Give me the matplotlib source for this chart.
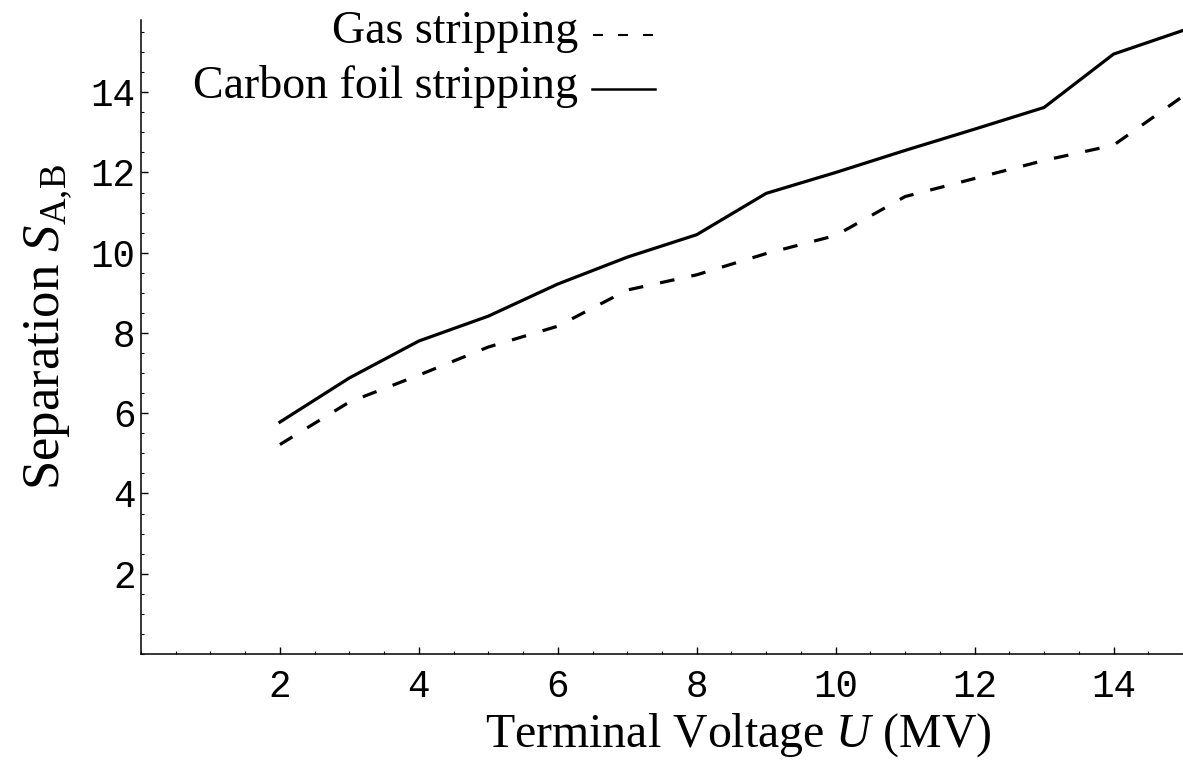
import matplotlib
matplotlib.use('Agg')
import matplotlib.pyplot as plt
from matplotlib.lines import Line2D
from matplotlib.ticker import MultipleLocator

plt.rcParams['mathtext.fontset'] = 'custom'
plt.rcParams['mathtext.rm'] = 'Liberation Serif'
plt.rcParams['mathtext.it'] = 'Liberation Serif:italic'

# terminal voltage (MV)
voltage = [2, 3, 4, 5, 6, 7, 8, 9, 10, 11, 12, 13, 14, 15]
# separation values
carbon_foil = [5.78, 6.88, 7.80, 8.42, 9.22, 9.89, 10.45, 11.48, 12.0, 12.55, 13.08, 13.62, 14.95, 15.54]
gas = [5.22, 6.28, 6.95, 7.65, 8.17, 9.07, 9.45, 9.98, 10.43, 11.4, 11.85, 12.3, 12.68, 13.9]

xticks = [2, 4, 6, 8, 10, 12, 14]
yticks = [2, 4, 6, 8, 10, 12, 14]

serif = 'Liberation Serif'
mono = 'Liberation Mono'

fig = plt.figure(figsize=(11.83, 7.6), dpi=100)
ax = fig.add_axes([141 / 1183, 106 / 760, 1 - 141 / 1183, (654 - 20) / 760])

ax.plot(voltage, carbon_foil, color='black', lw=2.3, solid_joinstyle='round', clip_on=False)
ax.plot(voltage, gas, color='black', lw=2.3, linestyle=(0, (4.6, 5.4)),
        dash_capstyle='butt', clip_on=False)

ax.set_xlim(0, 15)
ax.set_ylim(0, 15.8)

for s in ['top', 'right']:
    ax.spines[s].set_visible(False)
for s in ['left', 'bottom']:
    ax.spines[s].set_linewidth(1.1)

ax.set_xticks(xticks)
ax.set_yticks(yticks)
ax.xaxis.set_minor_locator(MultipleLocator(0.5))
ax.yaxis.set_minor_locator(MultipleLocator(0.5))
ax.tick_params(which='major', direction='in', length=5, width=1.0)
ax.tick_params(which='minor', direction='in', length=2.5, width=0.8)
ax.tick_params(axis='x', which='major', pad=11)
ax.tick_params(axis='y', which='major', pad=4)
for lab in ax.get_xticklabels() + ax.get_yticklabels():
    lab.set_fontfamily(mono)
    lab.set_fontsize(27)

ax.set_xlabel('Terminal Voltage $U$ (MV)', fontfamily=serif, fontsize=34.5)
ax.xaxis.set_label_coords(0.573, -0.09)
ax.set_ylabel('Separation $S_{\\mathrm{A{,}B}}$', fontfamily=serif, fontsize=38)
ax.yaxis.set_label_coords(-0.064, 0.515)

# legend drawn as text + line samples, in axes fraction
def fx(px):
    return (px - 141) / (1183 - 141)

def fy(py):
    return (654 - py) / (654 - 20)

ax.text(fx(578), fy(43), 'Gas stripping', ha='right', va='baseline',
        fontfamily=serif, fontsize=33, transform=ax.transAxes)
ax.text(fx(578), fy(98), 'Carbon foil stripping', ha='right', va='baseline',
        fontfamily=serif, fontsize=33, transform=ax.transAxes)
ax.add_line(Line2D([fx(593), fx(655)], [fy(35), fy(35)], color='black', lw=1.5,
                   linestyle=(0, (4.8, 7.2)), transform=ax.transAxes, clip_on=False))
ax.add_line(Line2D([fx(592), fx(655)], [fy(89), fy(89)], color='black', lw=1.8,
                   transform=ax.transAxes, clip_on=False))

fig.savefig('out.png', dpi=100)
